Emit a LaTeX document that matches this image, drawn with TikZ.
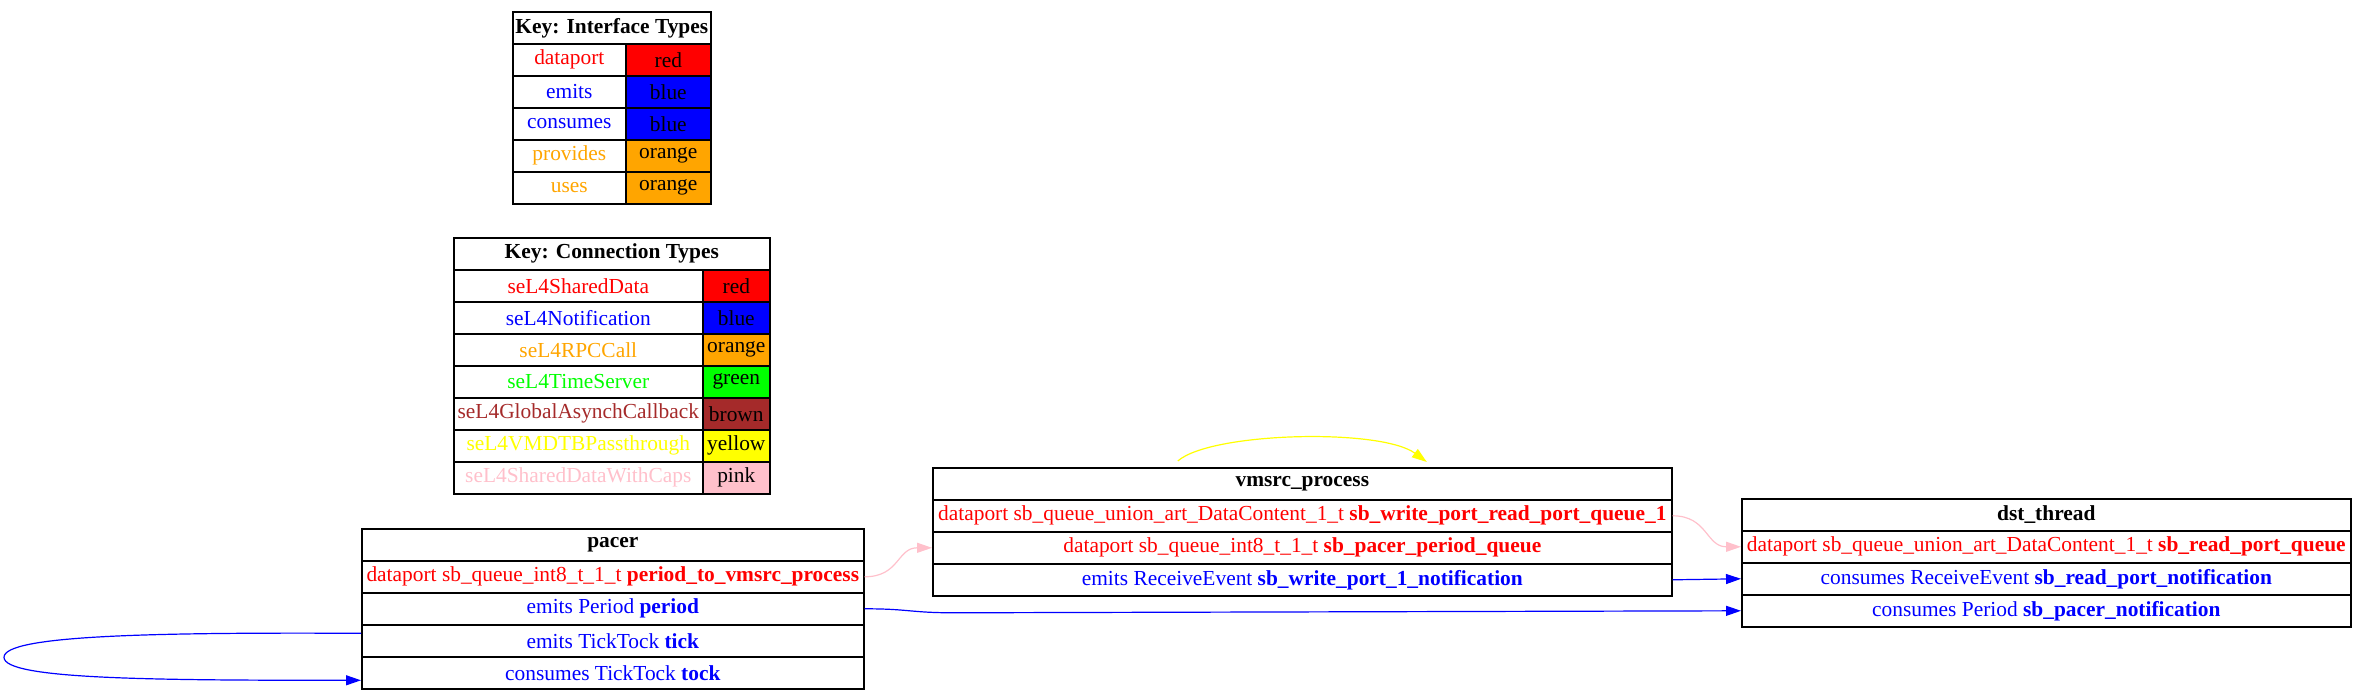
\documentclass[tikz,border=0pt]{standalone}
\usepackage{fontspec}
\setmainfont{Liberation Serif}
\usepackage{tikz}
\usetikzlibrary{arrows.meta}

\definecolor{gvred}{RGB}{255,0,0}
\definecolor{gvblue}{RGB}{0,0,255}
\definecolor{gvorange}{RGB}{255,165,0}
\definecolor{gvgreen}{RGB}{0,255,0}
\definecolor{gvbrown}{RGB}{165,42,42}
\definecolor{gvyellow}{RGB}{255,255,0}
\definecolor{gvpink}{RGB}{255,192,203}

\begin{document}
\begin{tikzpicture}[x=0.5pt, y=-0.5pt, >={Triangle[length=7.5pt,width=5pt]}]
 \tikzstyle{cell}=[draw=black, line width=0.8pt, anchor=north west, inner sep=0pt, minimum height=16pt, font=\fontsize{10.7}{12}\selectfont]
 \tikzstyle{head}=[cell, font=\fontsize{10.7}{12}\selectfont\bfseries]
 \tikzstyle{edge}=[->, line width=0.6pt]
 \useasboundingbox (0,0) rectangle (2365,699);

 % key: interface types
 \node (keyIface) at (512,11) [head, minimum width=99pt] {Key: Interface Types};
 \node (ifDataport) at (512,43) [cell, minimum width=56.5pt, text=gvred] {dataport};
 \node (ifDataportC) at (625,43) [cell, minimum width=42.5pt, fill=gvred] {red};
 \node (ifEmits) at (512,75) [cell, minimum width=56.5pt, text=gvblue] {emits};
 \node (ifEmitsC) at (625,75) [cell, minimum width=42.5pt, fill=gvblue] {blue};
 \node (ifConsumes) at (512,107) [cell, minimum width=56.5pt, text=gvblue] {consumes};
 \node (ifConsumesC) at (625,107) [cell, minimum width=42.5pt, fill=gvblue] {blue};
 \node (ifProvides) at (512,139) [cell, minimum width=56.5pt, text=gvorange] {provides};
 \node (ifProvidesC) at (625,139) [cell, minimum width=42.5pt, fill=gvorange] {orange};
 \node (ifUses) at (512,171) [cell, minimum width=56.5pt, text=gvorange] {uses};
 \node (ifUsesC) at (625,171) [cell, minimum width=42.5pt, fill=gvorange] {orange};

 % key: connection types
 \node (keyConn) at (453,237) [head, minimum width=158pt] {Key: Connection Types};
 \node (cnShared) at (453,269) [cell, minimum width=124.5pt, text=gvred] {seL4SharedData};
 \node (cnSharedC) at (702,269) [cell, minimum width=33.5pt, fill=gvred] {red};
 \node (cnNotif) at (453,301) [cell, minimum width=124.5pt, text=gvblue] {seL4Notification};
 \node (cnNotifC) at (702,301) [cell, minimum width=33.5pt, fill=gvblue] {blue};
 \node (cnRPC) at (453,333) [cell, minimum width=124.5pt, text=gvorange] {seL4RPCCall};
 \node (cnRPCC) at (702,333) [cell, minimum width=33.5pt, fill=gvorange] {orange};
 \node (cnTime) at (453,365) [cell, minimum width=124.5pt, text=gvgreen] {seL4TimeServer};
 \node (cnTimeC) at (702,365) [cell, minimum width=33.5pt, fill=gvgreen] {green};
 \node (cnAsynch) at (453,397) [cell, minimum width=124.5pt, text=gvbrown] {seL4GlobalAsynchCallback};
 \node (cnAsynchC) at (702,397) [cell, minimum width=33.5pt, fill=gvbrown] {brown};
 \node (cnVMDTB) at (453,429) [cell, minimum width=124.5pt, text=gvyellow] {seL4VMDTBPassthrough};
 \node (cnVMDTBC) at (702,429) [cell, minimum width=33.5pt, fill=gvyellow] {yellow};
 \node (cnCaps) at (453,461) [cell, minimum width=124.5pt, text=gvpink] {seL4SharedDataWithCaps};
 \node (cnCapsC) at (702,461) [cell, minimum width=33.5pt, fill=gvpink] {pink};

 % pacer
 \node (pacer) at (361,528) [head, minimum width=251pt] {pacer};
 \node (pacerD1) at (361,560) [cell, minimum width=251pt, text=gvred] {dataport sb\_queue\_int8\_t\_1\_t \textbf{period\_to\_vmsrc\_process}};
 \node (pacerE1) at (361,592) [cell, minimum width=251pt, text=gvblue] {emits Period \textbf{period}};
 \node (pacerE2) at (361,624) [cell, minimum width=251pt, text=gvblue] {emits TickTock \textbf{tick}};
 \node (pacerC1) at (361,656) [cell, minimum width=251pt, text=gvblue] {consumes TickTock \textbf{tock}};

 % vmsrc_process
 \node (vmsrc) at (932,467) [head, minimum width=369.5pt] {vmsrc\_process};
 \node (vmsrcD1) at (932,499) [cell, minimum width=369.5pt, text=gvred] {dataport sb\_queue\_union\_art\_DataContent\_1\_t \textbf{sb\_write\_port\_read\_port\_queue\_1}};
 \node (vmsrcD2) at (932,531) [cell, minimum width=369.5pt, text=gvred] {dataport sb\_queue\_int8\_t\_1\_t \textbf{sb\_pacer\_period\_queue}};
 \node (vmsrcE1) at (932,563) [cell, minimum width=369.5pt, text=gvblue] {emits ReceiveEvent \textbf{sb\_write\_port\_1\_notification}};

 % dst_thread
 \node (dst) at (1741,498) [head, minimum width=304.5pt] {dst\_thread};
 \node (dstD1) at (1741,530) [cell, minimum width=304.5pt, text=gvred] {dataport sb\_queue\_union\_art\_DataContent\_1\_t \textbf{sb\_read\_port\_queue}};
 \node (dstC1) at (1741,562) [cell, minimum width=304.5pt, text=gvblue] {consumes ReceiveEvent \textbf{sb\_read\_port\_notification}};
 \node (dstC2) at (1741,594) [cell, minimum width=304.5pt, text=gvblue] {consumes Period \textbf{sb\_pacer\_notification}};

 \draw [edge, gvpink] (pacerD1.east) .. controls +(35,0) and +(-35,0) .. (vmsrcD2.west);
 \draw [edge, gvpink] (vmsrcD1.east) .. controls +(35,0) and +(-35,0) .. (dstD1.west);
 \draw [edge, gvblue] (vmsrcE1.east) -- (dstC1.west);
 \draw [edge, gvblue] (pacerE1.east) .. controls +(45,0) and +(-45,0) .. ++(90,4) -- (dstC2.west);
 \draw [edge, gvblue] ([yshift=3.75pt]pacerE2.west) .. controls +(-210,-1) and +(0,-22) .. ++(-357,24)
 	.. controls +(0,22) and +(-210,0) .. ([yshift=-3.75pt]pacerC1.west);
 \draw [edge, gvyellow] ([xshift=-62.25pt,yshift=3pt]vmsrc.north) .. controls +(33,-29) and +(-46,-34) .. ([xshift=62.25pt,yshift=2.5pt]vmsrc.north);

\end{tikzpicture}
\end{document}
